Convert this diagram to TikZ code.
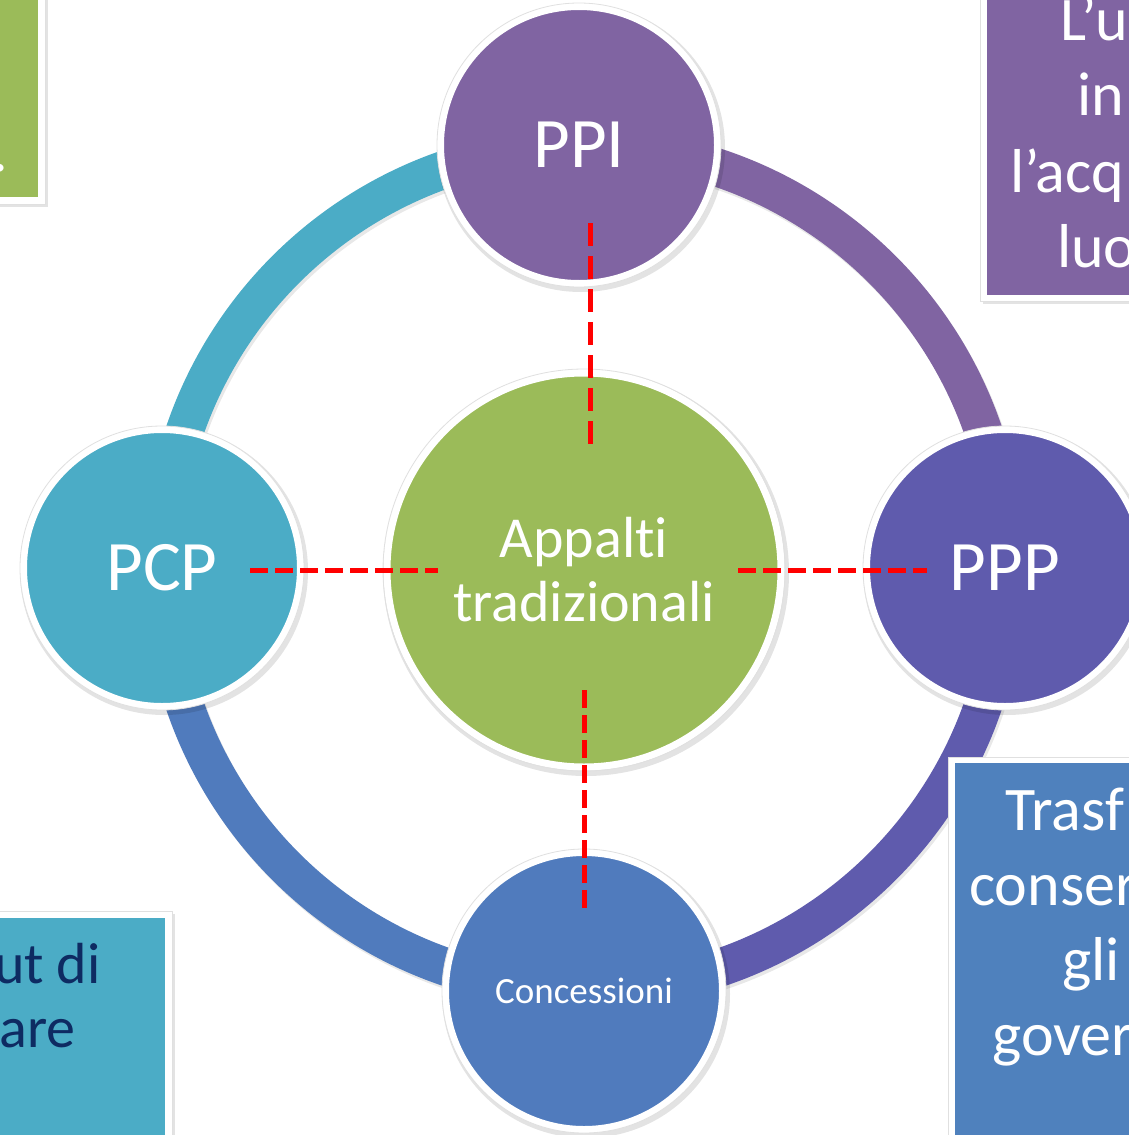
\documentclass[tikz,border=0pt]{standalone}
\usepackage{fontspec}
\setmainfont[Ligatures=NoCommon]{Carlito}
\usetikzlibrary{calc}
\definecolor{cteal}{HTML}{4BACC6}
\definecolor{cpurple}{HTML}{8064A2}
\definecolor{cindigo}{HTML}{5F5BAD}
\definecolor{cblue}{HTML}{507BBD}
\definecolor{cboxblue}{HTML}{4F81BD}
\definecolor{cgreen}{HTML}{9BBB59}
\definecolor{cnavy}{HTML}{0E2B62}
\definecolor{cred}{HTML}{FF0000}
\begin{document}
\begin{tikzpicture}[x=1pt,y=-1pt,
  ringseg/.style={line width=38pt},
  bubble/.style={circle, draw=white, line width=7pt, inner sep=0pt, text=white},
  softshadow/.style={fill=black, opacity=0.11},
  edgeline/.style={draw=black!12, line width=0.8pt},
  boxtext/.style={inner sep=0pt, font=\fontsize{62}{75}\selectfont, text=white},
  redline/.style={cred, line width=5pt, dash pattern=on 18pt off 7pt},
  redshadow/.style={black, opacity=0.18, line width=5pt, dash pattern=on 18pt off 7pt}
]
\useasboundingbox (0,0) rectangle (1129,1135);
\clip (0,0) rectangle (1129,1135);
\fill[white] (0,0) rectangle (1129,1135);

% ring
\coordinate (ringc) at (584,568);
\draw[ringseg, black, opacity=0.09] ($(ringc)+(2,3)$) circle[radius=422];
\draw[ringseg, cteal]   (ringc) ++(180:422) arc[start angle=180, end angle=270, radius=422];
\draw[ringseg, cpurple] (ringc) ++(270:422) arc[start angle=270, end angle=360, radius=422];
\draw[ringseg, cindigo] (ringc) ++(0:422)   arc[start angle=0,   end angle=90,  radius=422];
\draw[ringseg, cblue]   (ringc) ++(90:422)  arc[start angle=90,  end angle=180, radius=422];

% circle shadows
\fill[softshadow] (581,148) circle[radius=144];
\fill[softshadow] (164,571) circle[radius=144];
\fill[softshadow] (1007,571) circle[radius=144];
\fill[softshadow] (586,994) circle[radius=144];
\fill[softshadow] (586,573) circle[radius=203];

% outer circles
\node[bubble, fill=cpurple, minimum size=277pt, font=\fontsize{71}{85}\selectfont] (ppi) at (579,145) {PPI};
\node[bubble, fill=cteal, minimum size=277pt, font=\fontsize{71}{85}\selectfont] (pcp) at (162,568) {PCP};
\node[bubble, fill=cindigo, minimum size=277pt, font=\fontsize{71}{85}\selectfont] (ppp) at (1005,568) {PPP};
\node[bubble, fill=cblue, minimum size=277pt, font=\fontsize{37}{44}\selectfont] (conc) at (584,991) {Concessioni};
\node[bubble, fill=cgreen, minimum size=394pt, align=center, font=\fontsize{58}{64}\selectfont] (cen) at (584,570) {Appalti\\tradizionali};
\foreach \n in {ppi,pcp,ppp,conc}{\draw[edgeline] (\n.center) circle[radius=142];}
\draw[edgeline] (cen.center) circle[radius=201];

% boxes
% top-left green
\fill[softshadow] (-20,-20) rectangle (47.5,207);
\fill[white] (-20,-20) rectangle (45,204);
\draw[edgeline] (-20,-20) rectangle (45,204);
\fill[cgreen] (-20,-20) rectangle (38,197);
\node[boxtext, anchor=base east] (tl1) at (8,171) {.};

% top-right purple
\fill[softshadow] (982.5,-20) rectangle (1160,304);
\fill[white] (980,-20) rectangle (1160,301);
\draw[edgeline] (980,-20) rectangle (1160,301);
\fill[cpurple] (987,-20) rectangle (1160,295);
\node[boxtext, anchor=base west] (tr1) at (1060,40) {L’u};
\node[boxtext, anchor=base west] (tr2) at (1077,115) {in};
\node[boxtext, anchor=base west] (tr3) at (1010,192) {l’acq};
\node[boxtext, anchor=base west] (tr4) at (1057,267) {luo};

% bottom-left teal
\fill[softshadow] (-20,914) rectangle (174.5,1160);
\fill[white] (-20,911) rectangle (172,1160);
\draw[edgeline] (-20,911) rectangle (172,1160);
\fill[cteal] (-20,918) rectangle (165,1160);
\node[boxtext, anchor=base east, text=cnavy, font=\fontsize{58}{64}\selectfont] (bl1) at (101,983) {ut di};
\node[boxtext, anchor=base east, text=cnavy, font=\fontsize{58}{64}\selectfont] (bl2) at (76,1047) {are};

% bottom-right blue
\fill[softshadow] (950.5,760) rectangle (1160,1160);
\fill[white] (948,757) rectangle (1160,1160);
\draw[edgeline] (948,757) rectangle (1160,1160);
\fill[cboxblue] (955,763) rectangle (1160,1160);
\node[boxtext, anchor=base west] (br1) at (1005,830) {Trasf};
\node[boxtext, anchor=base west] (br2) at (969,905) {conser};
\node[boxtext, anchor=base west] (br3) at (1062,980) {gli};
\node[boxtext, anchor=base west] (br4) at (992,1055) {gover};

% dashed connectors
\coordinate (ppiIn) at (590,223);
\coordinate (cenTop) at (590,447);
\coordinate (pcpIn) at (250,570);
\coordinate (cenLeft) at (438,570);
\coordinate (cenRight) at (738,570);
\coordinate (pppIn) at (927,570);
\coordinate (cenBot) at (584,690);
\coordinate (concIn) at (584,913);
\begin{scope}[shift={(1.5,2.5)}]
\draw[redshadow, dash pattern=on 23pt off 10pt] (ppiIn) -- (cenTop);
\draw[redshadow] (pcpIn) -- (cenLeft);
\draw[redshadow] (cenRight) -- (pppIn);
\draw[redshadow] (cenBot) -- (concIn);
\end{scope}
\draw[redline, dash pattern=on 23pt off 10pt] (ppiIn) -- (cenTop);
\draw[redline] (pcpIn) -- (cenLeft);
\draw[redline] (cenRight) -- (pppIn);
\draw[redline] (cenBot) -- (concIn);
\end{tikzpicture}
\end{document}
